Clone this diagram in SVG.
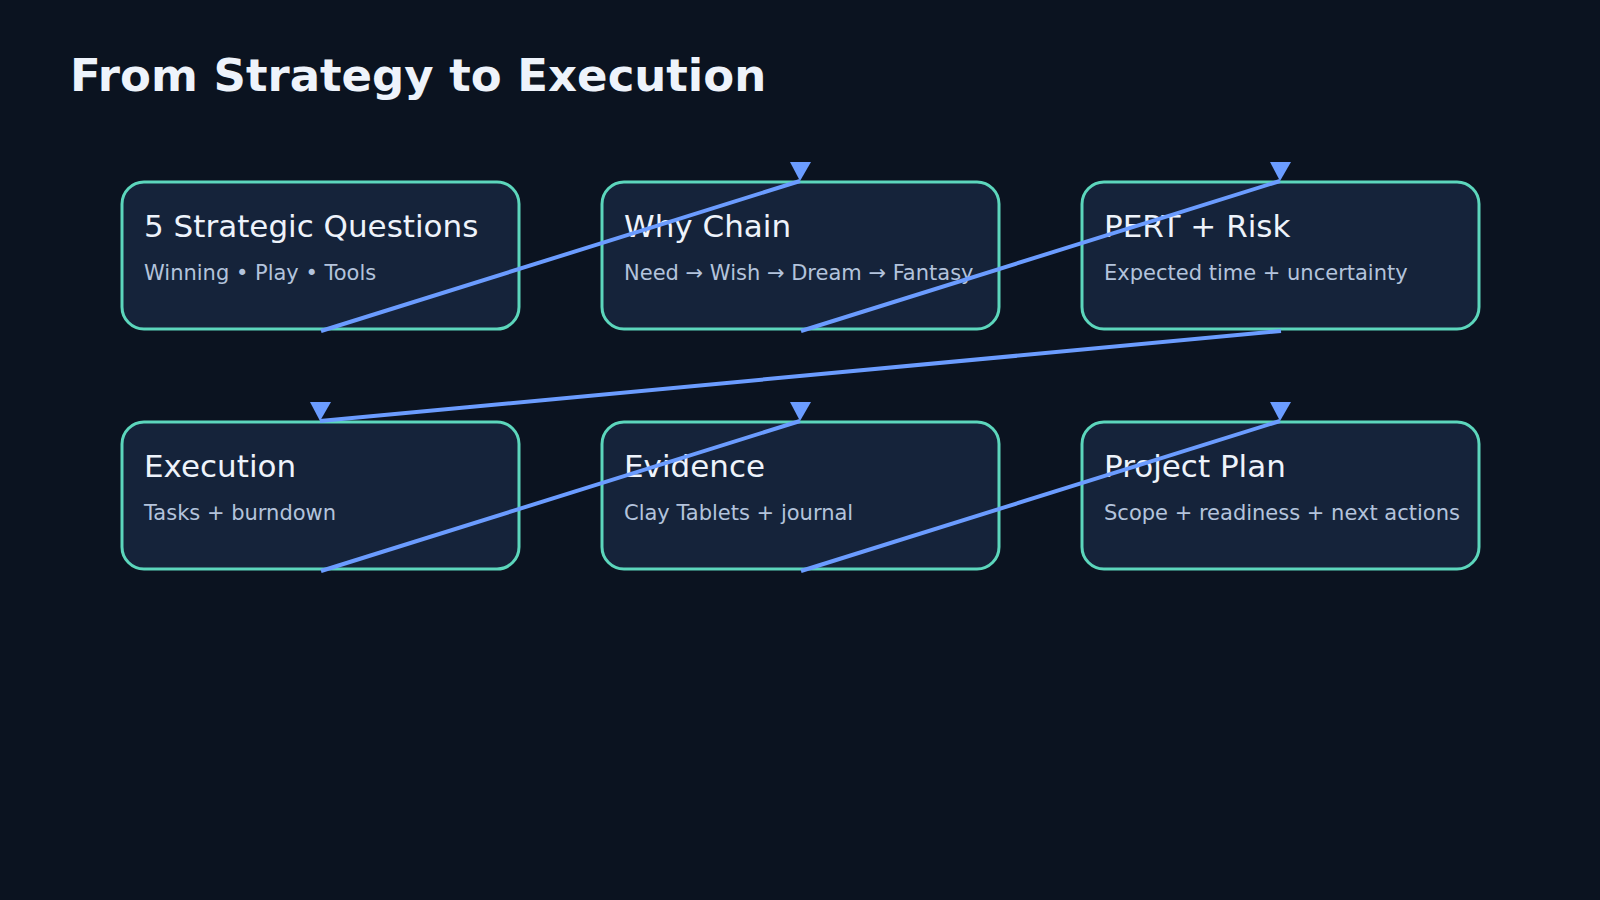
<svg xmlns="http://www.w3.org/2000/svg" width="1600" height="900" viewBox="0 0 1600 900">
<style>
.box{fill:#15233a;stroke:#5cd6bc;stroke-width:3}
.t{font-family:"DejaVu Sans",sans-serif;font-size:31px;fill:#eef3fb}
.s{font-family:"DejaVu Sans",sans-serif;font-size:21px;fill:#b3c3dc}
.c{stroke:#6b9cff;stroke-width:4;fill:none}
.h{fill:#6b9cff}
</style>
<rect width="1600" height="900" fill="#0b1320"/>
<text x="70" y="91" font-family="DejaVu Sans,sans-serif" font-weight="bold" font-size="45" fill="#eef3fb">From Strategy to Execution</text>
<g id="n1"><rect class="box" x="122" y="182" width="397" height="147" rx="22"/><text class="t" x="144" y="237">5 Strategic Questions</text><text class="s" x="144" y="280">Winning • Play • Tools</text></g>
<g id="n2"><rect class="box" x="602" y="182" width="397" height="147" rx="22"/><text class="t" x="624" y="237">Why Chain</text><text class="s" x="624" y="280">Need → Wish → Dream → Fantasy</text></g>
<g id="n3"><rect class="box" x="1082" y="182" width="397" height="147" rx="22"/><text class="t" x="1104" y="237">PERT + Risk</text><text class="s" x="1104" y="280">Expected time + uncertainty</text></g>
<g id="n4"><rect class="box" x="122" y="422" width="397" height="147" rx="22"/><text class="t" x="144" y="477">Execution</text><text class="s" x="144" y="520">Tasks + burndown</text></g>
<g id="n5"><rect class="box" x="602" y="422" width="397" height="147" rx="22"/><text class="t" x="624" y="477">Evidence</text><text class="s" x="624" y="520">Clay Tablets + journal</text></g>
<g id="n6"><rect class="box" x="1082" y="422" width="397" height="147" rx="22"/><text class="t" x="1104" y="477">Project Plan</text><text class="s" x="1104" y="520">Scope + readiness + next actions</text></g>
<g id="connectors">
<path class="c" d="M321 331L800 181"/><polygon class="h" points="790,162 811,162 800,181"/>
<path class="c" d="M801 331L1280 181"/><polygon class="h" points="1270,162 1291,162 1280,181"/>
<path class="c" d="M1281 331L320 421"/><polygon class="h" points="310,402 331,402 320,421"/>
<path class="c" d="M321 571L800 421"/><polygon class="h" points="790,402 811,402 800,421"/>
<path class="c" d="M801 571L1280 421"/><polygon class="h" points="1270,402 1291,402 1280,421"/>
</g>
</svg>
